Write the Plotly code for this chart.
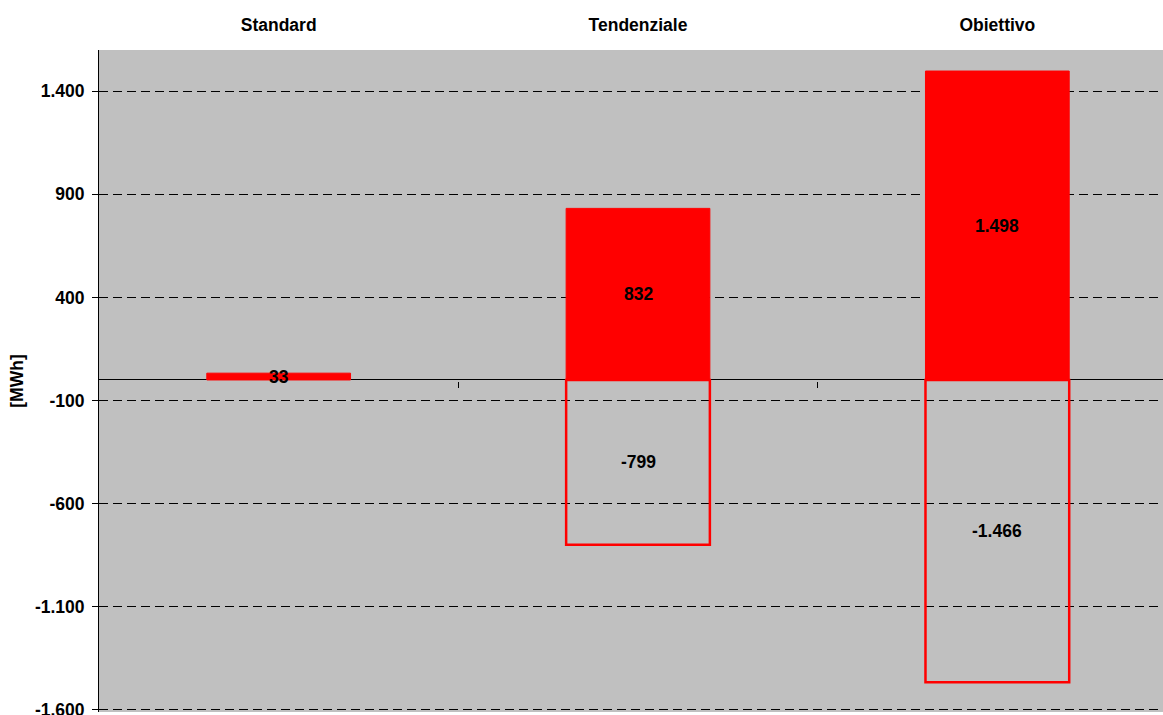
import plotly.graph_objects as go

# Energy balance per scenario [MWh]
categories = ["Standard", "Tendenziale", "Obiettivo"]
positive_values = [33, 832, 1498]
negative_values = [None, -799, -1466]

y_tick_values = [1400, 900, 400, -100, -600, -1100, -1600]
y_tick_labels = ["1.400", "900", "400", "-100", "-600", "-1.100", "-1.600"]


def fmt_it(v):
    # Italian style thousands separator
    s = f"{abs(int(v)):,}".replace(",", ".")
    return ("-" if v < 0 else "") + s


FONT = "Liberation Sans, Arial, sans-serif"
FS = 17.5
RED = "#FF0000"

fig = go.Figure()

fig.add_trace(go.Bar(
    x=categories, y=positive_values, width=0.4,
    marker=dict(color=RED, line=dict(color=RED, width=1)),
    hoverinfo="skip", showlegend=False,
))
fig.add_trace(go.Bar(
    x=categories, y=negative_values, width=0.4,
    marker=dict(color="rgba(0,0,0,0)", line=dict(color=RED, width=2.5)),
    hoverinfo="skip", showlegend=False,
))

# value labels centred inside each bar
for series in (positive_values, negative_values):
    for cat, v in zip(categories, series):
        if v is None:
            continue
        fig.add_annotation(
            x=cat, y=v / 2, text=f"<b>{fmt_it(v)}</b>", showarrow=False,
            font=dict(family=FONT, size=FS, color="black"),
            xanchor="center", yanchor="middle",
        )

fig.update_layout(
    width=1163, height=715,
    margin=dict(l=99, r=0, t=50, b=3, autoexpand=False),
    paper_bgcolor="white",
    plot_bgcolor="#C0C0C0",
    barmode="overlay",
    font=dict(family=FONT, size=FS, color="black"),
    xaxis=dict(
        side="top", automargin=False,
        range=[-0.5, 2.461],
        showgrid=False, showline=False, zeroline=False,
        ticks="", ticklabelstandoff=15,
        tickfont=dict(family=FONT, size=FS, color="black", weight="bold"),
    ),
    # category separators on the zero line
    xaxis2=dict(
        overlaying="x", anchor="free", position=0.5,
        range=[-0.5, 2.461],
        tickmode="array", tickvals=[0.5, 1.5], ticktext=["", ""],
        ticks="outside", ticklen=6, tickcolor="black", tickwidth=1,
        showgrid=False, showline=False, zeroline=False, showticklabels=False,
    ),
    yaxis=dict(
        range=[-1610, 1600], automargin=False,
        tickmode="array", tickvals=y_tick_values, ticktext=y_tick_labels,
        tickfont=dict(family=FONT, size=FS, color="black", weight="bold"),
        ticks="outside", ticklen=6, tickcolor="black", tickwidth=1,
        ticklabelstandoff=4, ticklabeloverflow="allow",
        showline=True, linecolor="black", linewidth=1,
        showgrid=True, gridcolor="black", gridwidth=1, griddash="9px,5px",
        zeroline=True, zerolinecolor="black", zerolinewidth=1,
        title=dict(text="<b>[MWh]</b>", standoff=6,
                   font=dict(family=FONT, size=FS, color="black")),
    ),
)

# invisible trace to activate the secondary x axis
fig.add_trace(go.Scatter(x=[0], y=[0], xaxis="x2", mode="markers",
                         marker=dict(opacity=0), hoverinfo="skip", showlegend=False))

fig.write_html("out.html")
